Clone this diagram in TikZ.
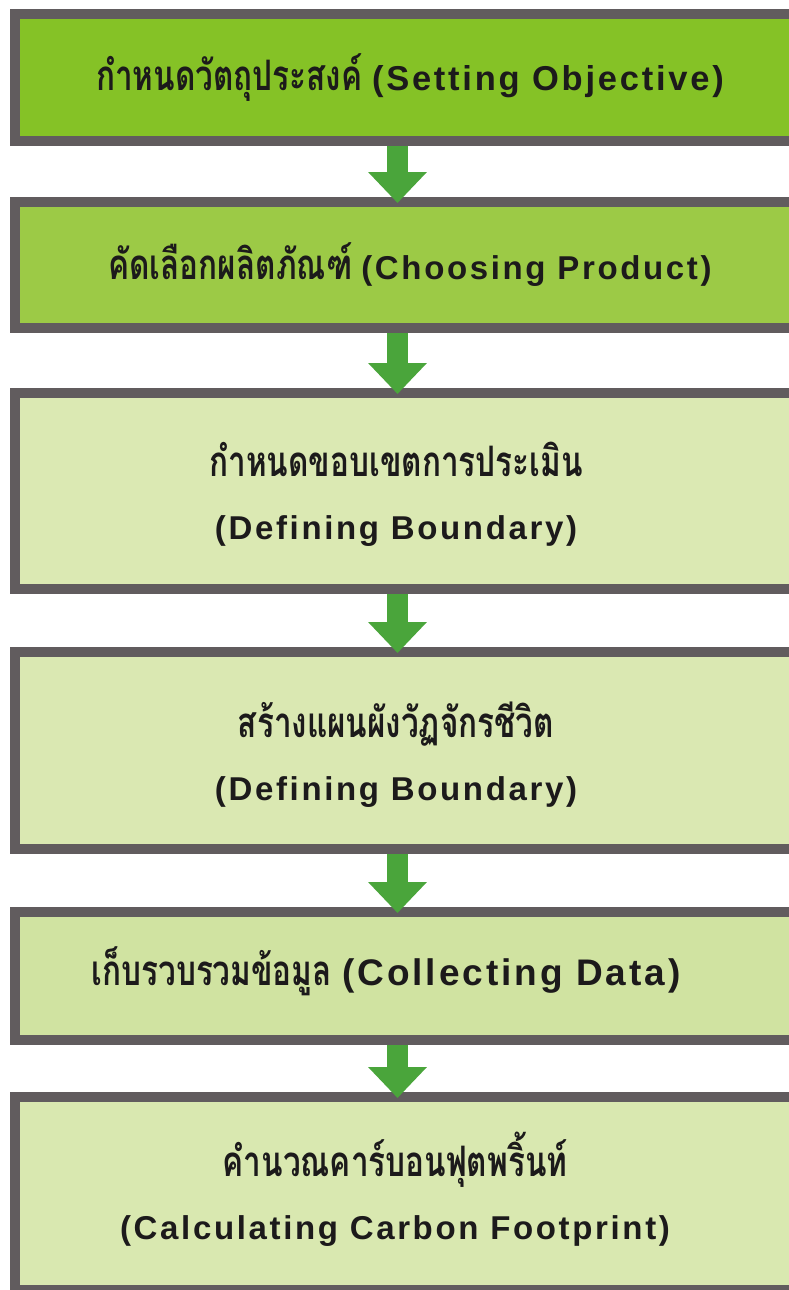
\documentclass[tikz,border=0pt]{standalone}
\usepackage{fontspec}
\setmainfont{Liberation Sans}
\newfontfamily\thaifont[Script=Thai,FakeStretch=0.75]{Loma}
\newfontfamily\engfont[LetterSpace=8]{Liberation Sans}
\usetikzlibrary{arrows.meta}
\definecolor{bordergray}{HTML}{615C5E}
\definecolor{fillA}{HTML}{85C226}
\definecolor{fillB}{HTML}{9CCA46}
\definecolor{fillC}{HTML}{DBE9B3}
\definecolor{fillD}{HTML}{DAE8B2}
\definecolor{fillE}{HTML}{D0E3A1}
\definecolor{fillF}{HTML}{D9E8B0}
\definecolor{arrowgreen}{HTML}{4AA53B}
\definecolor{textcol}{HTML}{1C1A1B}
\newcommand{\thtxt}[1]{{\thaifont\bfseries\fontsize{42}{63}\selectfont #1}}
\newcommand{\entxt}[1]{{\engfont\bfseries #1}}
\begin{document}
\begin{tikzpicture}[x=1pt,y=-1pt,
  stepbox/.style={draw=bordergray, line width=10pt, minimum width=790pt, inner sep=0pt},
  txt/.style={text=textcol, align=center, inner sep=0pt, font=\fontsize{33}{63}\selectfont},
  arr/.style={draw=arrowgreen, line width=21pt, -{Triangle[width=57pt,length=31pt]}}]
\clip (0,0) rectangle (789,1290);
\fill[white] (0,0) rectangle (789,1290);
\node[stepbox, fill=fillA, minimum height=127pt] (b1) at (410,77.5) {};
\node[stepbox, fill=fillB, minimum height=126pt] (b2) at (410,265) {};
\node[stepbox, fill=fillC, minimum height=196pt] (b3) at (410,491) {};
\node[stepbox, fill=fillD, minimum height=197pt] (b4) at (410,750.5) {};
\node[stepbox, fill=fillE, minimum height=128pt] (b5) at (410,976) {};
\node[stepbox, fill=fillF, minimum height=193pt] (b6) at (410,1193.5) {};
\node[txt, font=\fontsize{34.5}{63}\selectfont] (t1) at ([xshift=0pt]b1.center) {\thtxt{กำหนดวัตถุประสงค์}~\entxt{(Setting Objective)}};
\node[txt] (t2) at ([xshift=0pt]b2.center) {\thtxt{คัดเลือกผลิตภัณฑ์}~\entxt{(Choosing Product)}};
\node[txt] (t3) at ([xshift=-14pt,yshift=-3pt]b3.center) {\thtxt{กำหนดขอบเขตการประเมิน}\\\entxt{(Defining Boundary)}};
\node[txt] (t4) at ([xshift=-14pt,yshift=-4pt]b4.center) {\thtxt{สร้างแผนผังวัฏจักรชีวิต}\\\entxt{(Defining Boundary)}};
\node[txt, font=\fontsize{37}{63}\selectfont] (t5) at ([xshift=-24pt,yshift=5pt]b5.center) {\thtxt{เก็บรวบรวมข้อมูล}~\entxt{(Collecting Data)}};
\node[txt] (t6) at ([xshift=-15pt,yshift=4pt]b6.center) {\thtxt{คำนวณคาร์บอนฟุตพริ้นท์}\\\entxt{(Calculating Carbon Footprint)}};
\draw[arr] ([xshift=-12.5pt]b1.south) -- ([xshift=-12.5pt,yshift=-6pt]b2.north);
\draw[arr] ([xshift=-12.5pt]b2.south) -- ([xshift=-12.5pt,yshift=-6pt]b3.north);
\draw[arr] ([xshift=-12.5pt]b3.south) -- ([xshift=-12.5pt,yshift=-6pt]b4.north);
\draw[arr] ([xshift=-12.5pt]b4.south) -- ([xshift=-12.5pt,yshift=-6pt]b5.north);
\draw[arr] ([xshift=-12.5pt]b5.south) -- ([xshift=-12.5pt,yshift=-6pt]b6.north);
\end{tikzpicture}
\end{document}
